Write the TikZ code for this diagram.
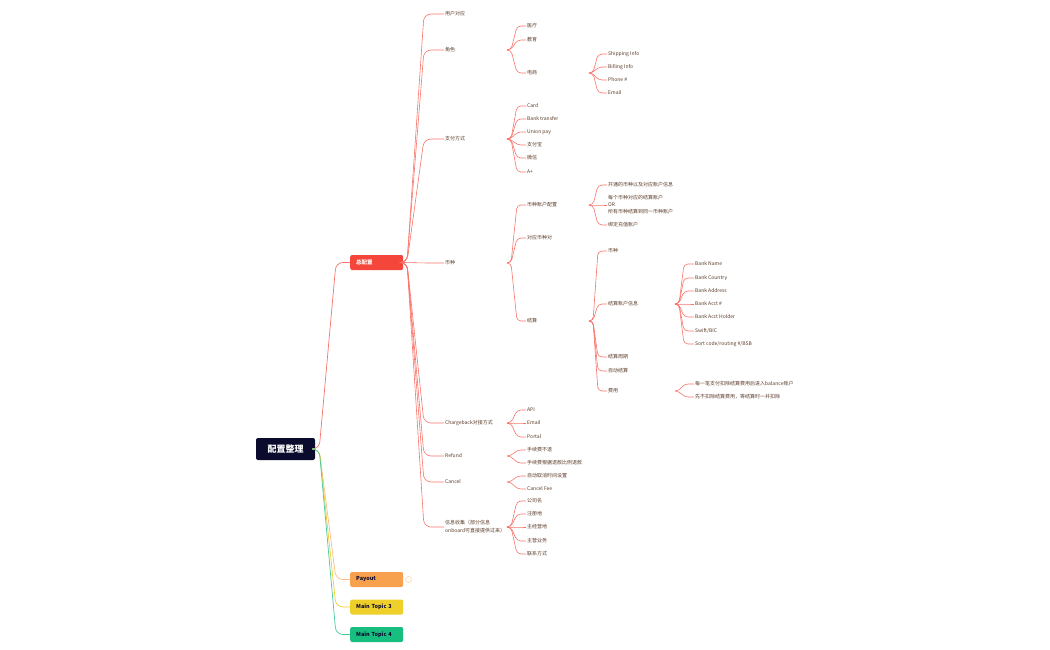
\documentclass[tikz,border=0pt]{standalone}
\usepackage{fontspec}
\setmainfont{Noto Sans CJK SC}
\usetikzlibrary{calc}

\definecolor{rootBlue}{HTML}{0B0B2D}
\definecolor{mainRed}{HTML}{F5463C}
\definecolor{lineRed}{HTML}{F8736A}
\definecolor{leafBrown}{HTML}{5A3B28}
\definecolor{payOrange}{HTML}{F7A04E}
\definecolor{topicYellow}{HTML}{EFD02B}
\definecolor{topicGreen}{HTML}{17BE80}

\tikzset{
  leaf/.style={anchor=west, inner sep=1pt, font=\fontsize{5}{7}\selectfont, text=leafBrown, align=left},
  topic/.style={anchor=west, fill=#1, rounded corners=2pt, minimum height=15pt, text width=41pt,
    align=left, inner xsep=6pt, inner ysep=0pt, font=\fontsize{5.5}{6}\selectfont\bfseries},
  branch/.style={draw=lineRed, line width=0.6pt, rounded corners=4pt},
  trunk/.style={draw=#1, line width=0.7pt, rounded corners=7pt},
}

\begin{document}
\begin{tikzpicture}[x=1pt, y=-1pt]
\useasboundingbox (0,-1) rectangle (1050,649);

% Root and main topics
\node[fill=rootBlue, rounded corners=2pt, minimum width=59pt, minimum height=22pt, text=white,
  font=\fontsize{9}{10}\selectfont\bfseries] (root) at (285.5,448) {配置整理};
\node[topic=mainRed, text=white] (zpz) at (350,261.5) {总配置};
\node[topic=payOrange, text=rootBlue] (payout) at (350,578.5) {Payout};
\node[topic=topicYellow, text=rootBlue] (mt3) at (350,606) {Main Topic 3};
\node[topic=topicGreen, text=rootBlue] (mt4) at (350,633.5) {Main Topic 4};
\draw[payOrange!60, line width=0.4pt] (408.5,578.5) circle (3pt);

\draw[trunk=lineRed] (root.east) -- ++(4,0) -- ([xshift=-14pt]zpz.west) -- (zpz.west);
\draw[trunk=payOrange!70] (root.east) -- ++(4,0) -- ([xshift=-14pt]payout.west) -- (payout.west);
\draw[trunk=topicYellow] (root.east) -- ++(4,0) -- ([xshift=-14pt]mt3.west) -- (mt3.west);
\draw[trunk=topicGreen!80] (root.east) -- ++(4,0) -- ([xshift=-14pt]mt4.west) -- (mt4.west);

% Second level
\node[leaf] (yonghu) at (444,13) {用户对应};
\node[leaf] (juese) at (444,49) {角色};
\node[leaf] (zhifu) at (444,138) {支付方式};
\node[leaf] (bizhong) at (444,262) {币种};
\node[leaf] (chargeback) at (444,422) {Chargeback对接方式};
\node[leaf] (refund) at (444,455) {Refund};
\node[leaf] (cancel) at (444,481) {Cancel};
\node[leaf, font=\fontsize{5}{8}\selectfont] (xinxi) at (444,526) {信息收集（部分信息\\onboard可直接提供过来）};

\coordinate (zpzF) at (404,261.5);
\foreach \c in {yonghu,juese,zhifu,bizhong,chargeback,refund,cancel,xinxi}
  \draw[branch, rounded corners=7pt] (zpzF) -- ++(3,0) -- ([xshift=-20pt]\c.west) -- (\c.west);

% Third level
\node[leaf] (yiliao) at (526,25) {医疗};
\node[leaf] (jiaoyu) at (526,39) {教育};
\node[leaf] (dianshang) at (526,72) {电商};

\node[leaf] (card) at (526,105) {Card};
\node[leaf] (bank) at (526,118) {Bank transfer};
\node[leaf] (union) at (526,131) {Union pay};
\node[leaf] (zfb) at (526,144) {支付宝};
\node[leaf] (weixin) at (526,157) {微信};
\node[leaf] (aplus) at (526,171) {A+};

\node[leaf] (bzzh) at (526,204) {币种账户配置};
\node[leaf] (dybz) at (526,237) {对应币种对};
\node[leaf] (jiesuan) at (526,320) {结算};

\node[leaf] (api) at (526,409) {API};
\node[leaf] (email) at (526,422) {Email};
\node[leaf] (portal) at (526,436) {Portal};

\node[leaf] (sxfbt) at (526,449) {手续费不退};
\node[leaf] (sxfgj) at (526,462) {手续费根据退款比例退款};

\node[leaf] (zdqx) at (526,475) {自动取消时间设置};
\node[leaf] (cfee) at (526,488) {Cancel Fee};

\node[leaf] (gsm) at (526,500) {公司名};
\node[leaf] (zcd) at (526,513) {注册地};
\node[leaf] (zjyd) at (526,526) {主经营地};
\node[leaf] (zyyw) at (526,540) {主营业务};
\node[leaf] (lxfs) at (526,553) {联系方式};

\coordinate (jueseF) at (507,49);
\coordinate (zhifuF) at (507,138);
\coordinate (bizhongF) at (507,262);
\coordinate (cbF) at (507,422);
\coordinate (refundF) at (507,455);
\coordinate (cancelF) at (507,481);
\coordinate (xinxiF) at (507,526);

\foreach \f/\c in {jueseF/yiliao, jueseF/jiaoyu, jueseF/dianshang,
    zhifuF/card, zhifuF/bank, zhifuF/union, zhifuF/zfb, zhifuF/weixin, zhifuF/aplus,
    bizhongF/bzzh, bizhongF/dybz, bizhongF/jiesuan,
    cbF/api, cbF/email, cbF/portal, refundF/sxfbt, refundF/sxfgj,
    cancelF/zdqx, cancelF/cfee,
    xinxiF/gsm, xinxiF/zcd, xinxiF/zjyd, xinxiF/zyyw, xinxiF/lxfs}
  \draw[branch] (\f) -- ++(4,0) -- ([xshift=-9pt]\c.west) -- (\c.west);

% Fourth level
\node[leaf] (ship) at (607,53) {Shipping Info};
\node[leaf] (bill) at (607,66) {Billing Info};
\node[leaf] (phone) at (607,79) {Phone \#};
\node[leaf] (mail) at (607,92) {Email};

\node[leaf] (ktbz) at (607,184) {开通的币种以及对应账户信息};
\node[leaf] (mgbz) at (607,204) {每个币种对应的结算账户\\OR\\所有币种结算到同一币种账户};
\node[leaf] (bdcz) at (607,224) {绑定充值账户};

\node[leaf] (bz2) at (607,250) {币种};
\node[leaf] (jszh) at (607,303) {结算账户信息};
\node[leaf] (jszq) at (607,356) {结算周期};
\node[leaf] (zdjs) at (607,370) {自动结算};
\node[leaf] (feiyong) at (607,390) {费用};

\coordinate (dianshangF) at (589,72);
\coordinate (bzzhF) at (589,204);
\coordinate (jiesuanF) at (589,320);

\foreach \f/\c in {dianshangF/ship, dianshangF/bill, dianshangF/phone, dianshangF/mail,
    bzzhF/ktbz, bzzhF/mgbz, bzzhF/bdcz,
    jiesuanF/bz2, jiesuanF/jszh, jiesuanF/jszq, jiesuanF/zdjs, jiesuanF/feiyong}
  \draw[branch] (\f) -- ++(4,0) -- ([xshift=-9pt]\c.west) -- (\c.west);

% Fifth level
\node[leaf] (bname) at (694,263) {Bank Name};
\node[leaf] (bcountry) at (694,277) {Bank Country};
\node[leaf] (baddr) at (694,290) {Bank Address};
\node[leaf] (bacct) at (694,303) {Bank Acct \#};
\node[leaf] (bholder) at (694,316) {Bank Acct Holder};
\node[leaf] (swift) at (694,330) {Swift/BIC};
\node[leaf] (sortcode) at (694,343) {Sort code/routing \#/BSB};

\node[leaf] (meibi) at (694,383) {每一笔支付扣除结算费用后进入balance账户};
\node[leaf] (xianbu) at (694,396) {先不扣除结算费用，等结算时一并扣除};

\coordinate (jszhF) at (675,303);
\coordinate (feiyongF) at (675,390);

\foreach \f/\c in {jszhF/bname, jszhF/bcountry, jszhF/baddr, jszhF/bacct, jszhF/bholder,
    jszhF/swift, jszhF/sortcode, feiyongF/meibi, feiyongF/xianbu}
  \draw[branch] (\f) -- ++(4,0) -- ([xshift=-10pt]\c.west) -- (\c.west);
\end{tikzpicture}
\end{document}
